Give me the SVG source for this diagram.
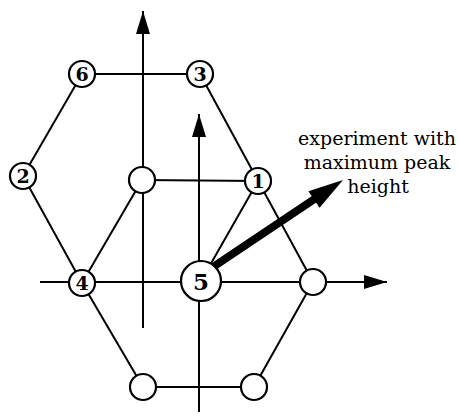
<svg xmlns="http://www.w3.org/2000/svg" width="458" height="420" viewBox="0 0 458 420">
<defs>
<style>
.ln{stroke:#000;stroke-width:2;fill:none}
.nd{fill:#fff;stroke:#000;stroke-width:2.2}
.lb{font-family:'DejaVu Serif',serif;font-weight:bold;font-size:19px;text-anchor:middle;fill:#000}
.tx{font-family:'DejaVu Serif',serif;font-size:19px;text-anchor:middle;fill:#000}
</style>
<marker id="ah" markerUnits="userSpaceOnUse" markerWidth="24" markerHeight="16" refX="23" refY="7" orient="auto">
<path d="M0,0 L23,7 L0,14 Z" fill="#000"/>
</marker>
</defs>
<rect width="458" height="420" fill="#fff"/>
<g id="connectors">
<line class="ln" x1="143" y1="328" x2="143" y2="11" marker-end="url(#ah)"/>
<line class="ln" x1="40" y1="282" x2="387" y2="282" marker-end="url(#ah)"/>
<line class="ln" x1="199" y1="412" x2="199" y2="114" marker-end="url(#ah)"/>
<line class="ln" x1="82" y1="74" x2="200" y2="74"/>
<line class="ln" x1="200" y1="74" x2="313" y2="282"/>
<line class="ln" x1="313" y1="282" x2="254" y2="387"/>
<line class="ln" x1="254" y1="387" x2="143" y2="387"/>
<line class="ln" x1="143" y1="387" x2="82" y2="283"/>
<line class="ln" x1="82" y1="283" x2="23" y2="176"/>
<line class="ln" x1="23" y1="176" x2="82" y2="74"/>
<line class="ln" x1="142" y1="180" x2="258" y2="181"/>
<line class="ln" x1="142" y1="180" x2="82" y2="283"/>
<line class="ln" x1="258" y1="181" x2="201" y2="281"/>
<g id="bold-arrow">
<line x1="210" y1="269" x2="316" y2="198" stroke="#000" stroke-width="8"/>
<polygon points="343,180 319.6,207.8 308.4,191.2" fill="#000"/>
</g>
</g>
<g id="node-6"><circle class="nd" cx="82" cy="74" r="13"/><text class="lb" x="82" y="81">6</text></g>
<g id="node-3"><circle class="nd" cx="200" cy="74" r="13"/><text class="lb" x="200" y="81">3</text></g>
<g id="node-2"><circle class="nd" cx="23" cy="176" r="13"/><text class="lb" x="23" y="183">2</text></g>
<g id="node-c"><circle class="nd" cx="142" cy="180" r="13"/></g>
<g id="node-1"><circle class="nd" cx="258" cy="181" r="13"/><text class="lb" x="258" y="188">1</text></g>
<g id="node-4"><circle class="nd" cx="82" cy="283" r="13"/><text class="lb" x="82" y="290">4</text></g>
<g id="node-5"><circle class="nd" cx="201" cy="281" r="20"/><text class="lb" x="201" y="289.5" style="font-size:23px">5</text></g>
<g id="node-r"><circle class="nd" cx="313" cy="282" r="13"/></g>
<g id="node-bl"><circle class="nd" cx="143" cy="387" r="13"/></g>
<g id="node-br"><circle class="nd" cx="254" cy="387" r="13"/></g>
<g id="label">
<text class="tx" x="377" y="145">experiment with</text>
<text class="tx" x="377" y="169">maximum peak</text>
<text class="tx" x="378" y="193">height</text>
</g>
</svg>
